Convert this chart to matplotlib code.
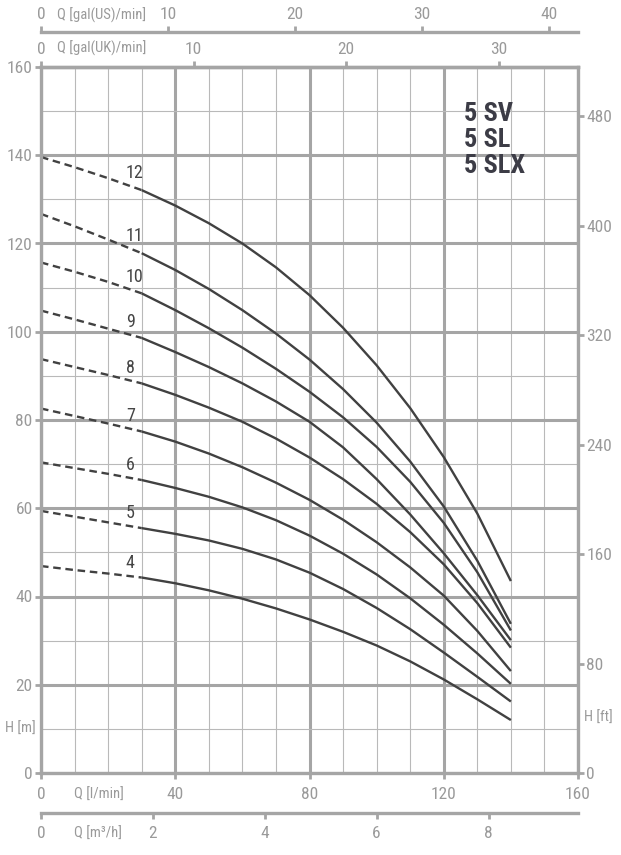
import matplotlib
matplotlib.use('Agg')
import matplotlib.pyplot as plt
from matplotlib import font_manager
import numpy as np

# the reference uses a condensed face; take a narrow one that also has a bold cut
entries = font_manager.fontManager.ttflist
names = {f.name for f in entries}
preferred = ['Roboto Condensed', 'Liberation Sans Narrow', 'Noto Sans Condensed',
             'Open Sans Condensed', 'DejaVu Sans Condensed', 'Noto Sans SemiCondensed']
narrow = [n for n in preferred if n in names]
narrow += sorted(n for n in names if ('Narrow' in n or 'Condensed' in n) and n not in narrow)
bold_ok = [n for n in narrow
           if any(f.name == n and str(f.weight) in ('700', 'bold') for f in entries)]
FONT = (bold_ok or narrow or ['DejaVu Sans'])[0]
plt.rcParams['font.family'] = [FONT, 'DejaVu Sans']

# flow rate [l/min] and head [m] for each number of stages
flow = [0, 10, 20, 30, 40, 50, 60, 70, 80, 90, 100, 110, 120, 130, 140]
head_4 = [46.9, 46.0, 45.2, 44.3, 43.0, 41.4, 39.5, 37.3, 34.8, 32.0, 28.9, 25.3, 21.2, 16.7, 12.0]
head_5 = [59.4, 58.1, 56.8, 55.5, 54.2, 52.7, 50.8, 48.4, 45.4, 41.7, 37.4, 32.6, 27.3, 21.8, 16.2]
head_6 = [70.4, 69.1, 67.8, 66.4, 64.6, 62.6, 60.2, 57.3, 53.8, 49.7, 45.0, 39.6, 33.6, 27.1, 20.2]
head_7 = [82.6, 80.9, 79.2, 77.4, 75.1, 72.4, 69.3, 65.8, 61.9, 57.4, 52.3, 46.6, 40.2, 32.2, 23.1]
head_8 = [93.8, 92.0, 90.2, 88.3, 85.7, 82.8, 79.6, 75.8, 71.5, 66.6, 61.0, 54.6, 47.3, 38.5, 28.4]
head_9 = [104.8, 102.8, 100.7, 98.6, 95.4, 92.0, 88.3, 84.2, 79.6, 73.8, 66.6, 58.6, 49.8, 40.3, 30.1]
head_10 = [115.7, 113.6, 111.3, 108.7, 104.9, 100.8, 96.4, 91.6, 86.4, 80.6, 73.9, 66.0, 56.7, 45.5, 32.3]
head_11 = [126.7, 123.9, 120.9, 117.8, 114.0, 109.7, 104.9, 99.6, 93.7, 87.0, 79.4, 70.6, 60.4, 48.1, 33.8]
head_12 = [139.6, 137.3, 134.8, 132.1, 128.6, 124.6, 120.0, 114.6, 108.3, 100.9, 92.4, 82.7, 71.6, 58.8, 43.5]

stages = ['4', '5', '6', '7', '8', '9', '10', '11', '12']
heads = [head_4, head_5, head_6, head_7, head_8, head_9, head_10, head_11, head_12]
dashed_end = 30  # curves are dashed below this flow

x_ticks = [0, 40, 80, 120, 160]
y_ticks = [0, 20, 40, 60, 80, 100, 120, 140, 160]
ft_ticks = [0, 80, 160, 240, 320, 400, 480]
us_ticks = [0, 10, 20, 30, 40]
uk_ticks = [0, 10, 20, 30]
m3h_ticks = [0, 2, 4, 6, 8]

GRAY = '#a5a5a5'
THIN = '#b9b9b9'
TXT = '#9a9a9a'
CURVE = '#414141'
FS = 12.5

W, H = 621, 855
fig = plt.figure(figsize=(W / 100, H / 100), dpi=100)
ax = fig.add_axes([41 / W, 82 / H, 537 / W, 706 / H])
ax.set_xlim(0, 160)
ax.set_ylim(0, 160)
ax.set_xticks(x_ticks)
ax.set_xticks(np.arange(0, 161, 10), minor=True)
ax.set_yticks(y_ticks)
ax.set_yticks(np.arange(0, 161, 10), minor=True)
ax.grid(which='major', color=GRAY, lw=2.2)
ax.grid(which='minor', color=THIN, lw=0.8)
ax.set_axisbelow(True)
for s in ax.spines.values():
    s.set_color(GRAY)
    s.set_linewidth(2.4)
ax.tick_params(which='major', direction='out', length=4, width=2, color=GRAY,
               labelcolor=TXT, labelsize=FS)
ax.tick_params(axis='x', which='major', pad=6)
ax.tick_params(axis='y', which='major', pad=2)
ax.tick_params(which='minor', length=0)

# pump curves
for st, h in zip(stages, heads):
    n = flow.index(dashed_end)
    ax.plot(flow[:n + 1], h[:n + 1], color=CURVE, lw=1.7, ls=(0, (3.2, 2)))
    ax.plot(flow[n:], h[n:], color=CURVE, lw=1.7, solid_capstyle='butt',
            solid_joinstyle='round')
    ax.annotate(st, xy=(25.3, np.interp(27, flow, h)), xytext=(0, 9.5),
                textcoords='offset points', ha='left', va='center',
                fontsize=13, color='#454545')

# title
for i, t in enumerate(['5 SV', '5 SL', '5 SLX']):
    ax.text(0.787, 0.9334 - i * 0.0368, t, transform=ax.transAxes, ha='left',
            va='center', fontsize=19, fontweight='bold', color='#3c3c46')

# right axis in feet
axr = ax.twinx()
axr.set_ylim(0, 516)
axr.set_yticks(ft_ticks)
for s in axr.spines.values():
    s.set_visible(False)
axr.tick_params(direction='out', length=4, width=2, color=GRAY,
                labelcolor=TXT, labelsize=FS, pad=2)

# top axes: gallons
uk = ax.secondary_xaxis('top', functions=(lambda q: q / 4.546, lambda g: g * 4.546))
uk.set_xticks(uk_ticks)
us = ax.secondary_xaxis(1.0496, functions=(lambda q: q / 3.785, lambda g: g * 3.785))
us.set_xticks(us_ticks)
# bottom axis: m3/h
m3 = ax.secondary_xaxis(-0.0567, functions=(lambda q: q * 0.06, lambda v: v / 0.06))
m3.set_xticks(m3h_ticks)
for sec in (uk, us, m3):
    for s in sec.spines.values():
        s.set_color(GRAY)
        s.set_linewidth(2.4)
    sec.tick_params(direction='out', length=4, width=2, color=GRAY,
                    labelcolor=TXT, labelsize=FS, pad=3)
m3.tick_params(pad=5)


def ftext(px, py, s, **kw):
    fig.text(px / W, 1 - py / H, s, color=TXT, va='center', **kw)


ftext(57, 15, 'Q [gal(US)/min]', fontsize=10.5)
ftext(57, 48, 'Q [gal(UK)/min]', fontsize=10.5)
ftext(74, 795, 'Q [l/min]', fontsize=10.5)
ftext(74, 834, 'Q [m³/h]', fontsize=10.5)
ftext(20, 729, 'H [m]', fontsize=10.5, ha='center')
ftext(598, 718, 'H [ft]', fontsize=10.5, ha='center')

fig.savefig('out.png', dpi=100)
